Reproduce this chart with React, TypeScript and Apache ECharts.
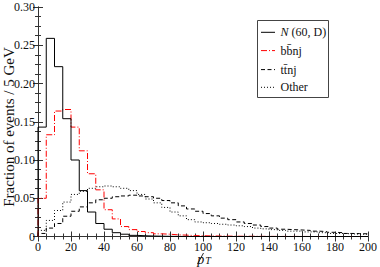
import React, { useEffect, useRef } from "react";
import * as echarts from "echarts";

const binWidth = 5;
const xTicks = [0, 20, 40, 60, 80, 100, 120, 140, 160, 180, 200];
const yTicks = [0, 0.05, 0.1, 0.15, 0.2, 0.25, 0.3];

// Fraction of events per 5 GeV bin, bins 0-5, 5-10, ..., 195-200
const nSignal = [0.143, 0.259, 0.222, 0.154, 0.1, 0.06, 0.032, 0.017, 0.0095, 0.005, 0.003, 0.0015, 0.001, 0.0006, 0.0004, 0.0002, 0.0001, 0.0001, 0, 0,
  0, 0, 0, 0, 0, 0, 0, 0, 0, 0, 0, 0, 0, 0, 0, 0, 0, 0, 0, 0];
const bbnj = [0.05, 0.133, 0.164, 0.166, 0.143, 0.112, 0.082, 0.061, 0.035, 0.023, 0.013, 0.009, 0.0065, 0.005, 0.0035, 0.003, 0.0022, 0.0018, 0.0012, 0.001,
  0.0008, 0.0006, 0.0005, 0.0004, 0.0003, 0.0003, 0.0002, 0.0002, 0.0001, 0.0001, 0.0001, 0.0001, 0, 0, 0, 0, 0, 0, 0, 0];
const ttnj = [0.004, 0.011, 0.017, 0.0265, 0.033, 0.0387, 0.044, 0.048, 0.05, 0.052, 0.053, 0.054, 0.053, 0.052, 0.05, 0.047, 0.044, 0.04, 0.036, 0.033,
  0.03, 0.027, 0.024, 0.022, 0.019, 0.017, 0.015, 0.013, 0.011, 0.0095, 0.009, 0.0085, 0.008, 0.007, 0.0065, 0.0055, 0.005, 0.004, 0.0038, 0.0035];
const other = [0.008, 0.021, 0.034, 0.045, 0.055, 0.059, 0.063, 0.065, 0.066, 0.065, 0.063, 0.06, 0.055, 0.049, 0.044, 0.038, 0.032, 0.027, 0.022, 0.019,
  0.018, 0.017, 0.016, 0.015, 0.014, 0.013, 0.011, 0.01, 0.009, 0.008, 0.007, 0.007, 0.006, 0.006, 0.005, 0.004, 0.004, 0.0035, 0.003, 0.003];

const seriesNames = ["N (60, D)", "bb\u0304nj", "tt\u0304nj", "Other"];
const legendLabels = ["{i|N} (60, D)", "bb\u0304nj", "tt\u0304nj", "Other"];

const FONT = "Liberation Serif";

function toSteps(values: number[]) {
  const pts: number[][] = [[0, 0]];
  values.forEach((v, i) => pts.push([(i + 1) * binWidth, v]));
  return pts;
}

export default function App() {
  const ref = useRef<HTMLDivElement>(null);
  useEffect(() => {
    if (!ref.current) return;
    document.body.style.margin = "0";
    const chart = echarts.init(ref.current, undefined, { renderer: "svg" });
    const axisColor = "#333";
    const baseX = {
      type: "value" as const,
      min: 0,
      max: 200,
      interval: 20,
      axisLine: { show: true, lineStyle: { color: axisColor, width: 1 } },
      axisTick: { show: true, inside: true, length: 5, lineStyle: { color: axisColor } },
      minorTick: { show: true, splitNumber: 4, length: 3, lineStyle: { color: axisColor } },
      splitLine: { show: false },
    };
    const baseY = {
      type: "value" as const,
      min: 0,
      max: 0.3,
      interval: 0.05,
      axisLine: { show: true, lineStyle: { color: axisColor, width: 1 } },
      axisTick: { show: true, inside: true, length: 5, lineStyle: { color: axisColor } },
      minorTick: { show: true, splitNumber: 4, length: 3, lineStyle: { color: axisColor } },
      splitLine: { show: false },
    };
    const colors = ["#000", "#ff0000", "#000", "#000"];
    const dashes: any[] = ["solid", [6, 2, 1, 2], [4, 2.5], [1, 2]];
    const datasets = [nSignal, bbnj, ttnj, other];

    const legendX = 257.5;
    const legendY = 20.5;
    const rowY = [32.3, 50.6, 69.6, 87.3];
    const legendChildren: any[] = [
      {
        type: "rect",
        shape: { x: legendX, y: legendY, width: 71, height: 77 },
        style: { fill: "#fff", stroke: "#444", lineWidth: 1 },
        z: 100,
      },
    ];
    rowY.forEach((ry, i) => {
      legendChildren.push({
        type: "line",
        shape: { x1: legendX + 3.5, y1: ry, x2: legendX + 17.5, y2: ry },
        style: { stroke: colors[i], lineWidth: 1, lineDash: dashes[i] === "solid" ? null : dashes[i] },
        z: 101,
      });
      legendChildren.push({
        type: "text",
        x: legendX + 23,
        y: ry,
        style: {
          text: legendLabels[i],
          fontFamily: FONT,
          fontSize: 12,
          fill: "#111",
          align: "left",
          verticalAlign: "middle",
          rich: { i: { fontFamily: FONT, fontSize: 12, fontStyle: "italic", fill: "#111" } },
        },
        z: 101,
      });
    });

    chart.setOption({
      animation: false,
      grid: { left: 38, right: 9, top: 7, bottom: 30.5, containLabel: false },
      xAxis: [
        {
          ...baseX,
          position: "bottom",
          axisLabel: {
            show: true,
            margin: 4,
            color: "#111",
            fontFamily: FONT,
            fontSize: 12,
            lineHeight: 12,
            formatter: (v: number) => (xTicks.includes(v) ? String(v) : ""),
          },
        },
        { ...baseX, position: "top", axisLabel: { show: false } },
      ],
      yAxis: [
        {
          ...baseY,
          position: "left",
          axisLabel: {
            show: true,
            margin: 3,
            color: "#111",
            fontFamily: FONT,
            fontSize: 12,
            formatter: (v: number) => {
              const t = yTicks.find((y) => Math.abs(y - v) < 1e-9);
              if (t === undefined) return "";
              return t === 0 ? "0" : t.toFixed(2);
            },
          },
        },
        { ...baseY, position: "right", axisLabel: { show: false } },
      ],
      graphic: [
        {
          type: "text",
          x: 9,
          y: 127,
          rotation: Math.PI / 2,
          style: {
            text: "Fraction of events / 5 GeV",
            fontFamily: FONT,
            fontSize: 15,
            fill: "#111",
            align: "center",
            verticalAlign: "middle",
          },
        },
        {
          type: "group",
          x: 204,
          y: 259,
          children: [
            {
              type: "text",
              x: 0,
              y: 0,
              style: {
                text: "{p|p}{t|T}",
                fontFamily: FONT,
                fill: "#111",
                align: "center",
                verticalAlign: "middle",
                rich: {
                  p: { fontFamily: FONT, fontSize: 14, fontStyle: "italic", fill: "#111", lineHeight: 12, verticalAlign: "middle" },
                  t: { fontFamily: FONT, fontSize: 10, fontStyle: "italic", fill: "#111", lineHeight: 12, verticalAlign: "bottom", padding: [0, 0, 0, 1] },
                },
              },
            },
            {
              type: "line",
              shape: { x1: -6.5, y1: 5, x2: -0.5, y2: -6 },
              style: { stroke: "#111", lineWidth: 0.9 },
            },
          ],
        },
        { type: "group", children: legendChildren },
      ],
      series: datasets.map((d, i) => ({
        name: seriesNames[i],
        type: "line",
        step: "start",
        data: toSteps(d),
        symbol: "none",
        showSymbol: false,
        lineStyle: { width: 1, color: colors[i], type: dashes[i] },
        itemStyle: { color: colors[i] },
        z: 10 - i,
      })),
    });
    return () => chart.dispose();
  }, []);
  return <div ref={ref} style={{ width: 380, height: 267 }} />;
}
